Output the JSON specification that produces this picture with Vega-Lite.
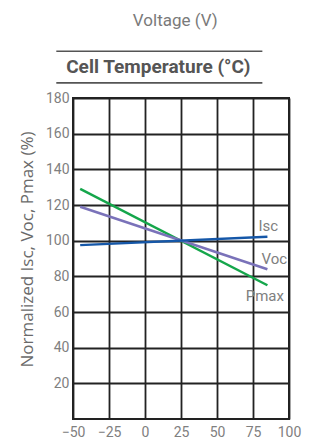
{
  "$schema": "https://vega.github.io/schema/vega-lite/v6.json",
  "autosize": "none",
  "width": 216,
  "height": 321,
  "padding": {"left": 73, "top": 98, "right": 21, "bottom": 20},
  "background": "white",
  "data": {"values": [{}]},
  "config": {
    "font": "Roboto",
    "view": {"stroke": "#222", "strokeWidth": 2},
    "axis": {"labelFont": "Roboto", "titleFont": "Roboto"}
  },
  "resolve": {"axis": {"x": "independent", "y": "independent"}},
  "datasets": {
    "curves": [
      {"T": -45, "value": 129, "series": "Pmax"},
      {"T": 85, "value": 75, "series": "Pmax"},
      {"T": -45, "value": 119, "series": "Voc"},
      {"T": 85, "value": 84, "series": "Voc"},
      {"T": -45, "value": 97.5, "series": "Isc"},
      {"T": 85, "value": 102.2, "series": "Isc"}
    ]
  },
  "layer": [
    {
      "data": {"name": "curves"},
      "mark": {"type": "line", "strokeWidth": 2.5},
      "encoding": {
        "x": {
          "field": "T", "type": "quantitative",
          "scale": {"domain": [-50, 100], "nice": false, "zero": false},
          "axis": {
            "values": [-50, -25, 0, 25, 50, 75, 100],
            "title": null,
            "grid": true, "gridColor": "#222", "gridWidth": 1.8, "gridOpacity": 1,
            "domain": false, "ticks": false, "labelOverlap": false,
            "labelFontSize": 14, "labelColor": "#808080", "labelPadding": 6,
            "labelFlush": false
          }
        },
        "y": {
          "field": "value", "type": "quantitative",
          "scale": {"domain": [0, 180], "nice": false},
          "axis": {
            "values": [20, 40, 60, 80, 100, 120, 140, 160, 180],
            "title": "Normalized Isc, Voc, Pmax (%)",
            "titleFont": "Open Sans",
            "titleFontSize": 17, "titleFontWeight": 500, "titleColor": "#6a6a6a",
            "titlePadding": 9, "titleY": 151,
            "grid": true, "gridColor": "#222", "gridWidth": 1.8, "gridOpacity": 1,
            "domain": false, "ticks": false, "labelOverlap": false,
            "labelFontSize": 14, "labelColor": "#808080", "labelPadding": 4,
            "labelFlush": false
          }
        },
        "color": {
          "field": "series", "type": "nominal",
          "scale": {"domain": ["Isc", "Voc", "Pmax"], "range": ["#1557a8", "#7a72b9", "#15a64b"]},
          "legend": null
        }
      }
    },
    {
      "mark": {"type": "text", "fontSize": 15, "color": "#808080", "align": "center", "baseline": "middle"},
      "encoding": {"x": {"datum": 85.6, "axis": null}, "y": {"datum": 108.5, "axis": null}, "text": {"value": "Isc"}}
    },
    {
      "mark": {"type": "text", "fontSize": 15, "color": "#808080", "align": "center", "baseline": "middle"},
      "encoding": {"x": {"datum": 89.8, "axis": null}, "y": {"datum": 90, "axis": null}, "text": {"value": "Voc"}}
    },
    {
      "mark": {"type": "text", "fontSize": 15, "color": "#808080", "align": "center", "baseline": "middle"},
      "encoding": {"x": {"datum": 83.2, "axis": null}, "y": {"datum": 68.7, "axis": null}, "text": {"value": "Pmax"}}
    },
    {
      "mark": {"type": "text", "fontSize": 17, "color": "#7a7a7a", "align": "center", "baseline": "middle"},
      "encoding": {"x": {"datum": 21, "axis": null}, "y": {"datum": 223.4, "axis": null}, "text": {"value": "Voltage (V)"}}
    },
    {
      "mark": {"type": "text", "fontSize": 19, "fontWeight": "bold", "color": "#555", "align": "center", "baseline": "middle"},
      "encoding": {"x": {"datum": 9.2, "axis": null}, "y": {"datum": 197.6, "axis": null}, "text": {"value": "Cell Temperature (°C)"}}
    },
    {
      "mark": {"type": "rule", "color": "#555", "strokeWidth": 1.6},
      "encoding": {"x": {"datum": -61.6, "axis": null}, "x2": {"datum": 81.5}, "y": {"datum": 206.2, "axis": null}}
    },
    {
      "mark": {"type": "rule", "color": "#555", "strokeWidth": 1.6},
      "encoding": {"x": {"datum": -61.6, "axis": null}, "x2": {"datum": 81.5}, "y": {"datum": 188.5, "axis": null}}
    }
  ]
}
